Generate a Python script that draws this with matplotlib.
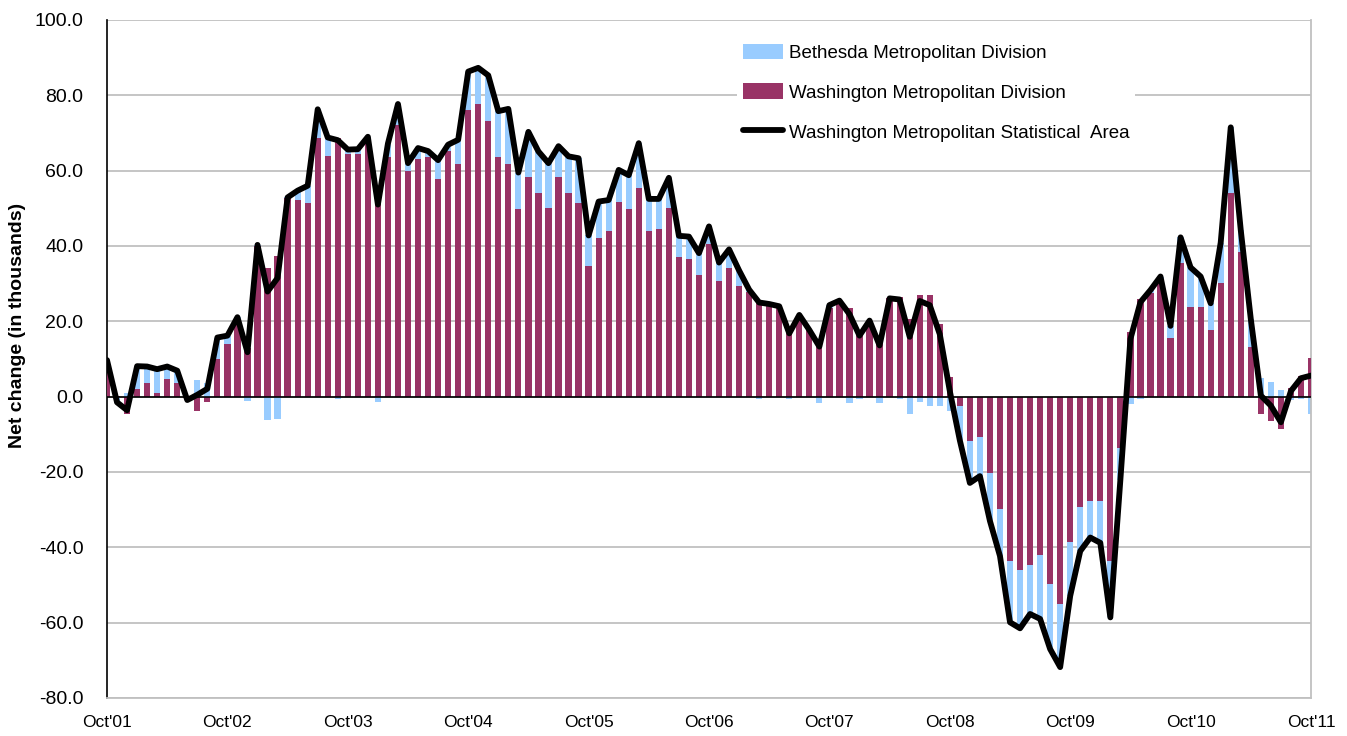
import matplotlib
matplotlib.use("Agg")
import matplotlib.pyplot as plt
import numpy as np

plt.rcParams['font.family'] = ['Liberation Sans', 'DejaVu Sans']

# Monthly net change, Oct'01 .. Oct'11 (thousands)
washington = [
    6.6, 0.3, -4.6, 2.0, 3.5, 1.1, 4.6, 3.7, -0.4, -3.8, -1.5, 10.1,
    14.1, 20.7, 12.9, 40.0, 34.1, 37.4, 52.7, 52.2, 51.3, 68.7, 64.0, 68.7,
    64.3, 64.5, 68.0, 52.3, 63.7, 72.0, 59.8, 63.1, 63.7, 57.8, 65.2, 61.9,
    76.1, 77.7, 73.3, 63.6, 61.9, 49.7, 58.2, 54.2, 50.1, 58.2, 54.2, 51.3,
    34.8, 42.0, 44.1, 51.8, 49.7, 55.3, 44.1, 44.5, 50.2, 37.2, 36.5, 32.3,
    40.4, 30.8, 34.1, 29.5, 27.9, 25.6, 24.4, 24.0, 17.4, 21.2, 17.7, 14.9,
    23.5, 25.2, 23.5, 16.8, 19.8, 15.4, 26.1, 26.5, 20.5, 26.9, 26.9, 19.2,
    5.3, -2.4, -11.9, -10.6, -20.3, -29.8, -43.6, -46.1, -44.7, -42.1, -49.8, -55.1,
    -38.6, -29.3, -27.8, -27.8, -43.6, -13.7, 17.3, 25.8, 27.6, 30.1, 15.5, 35.6,
    23.9, 23.9, 17.7, 30.1, 54.2, 38.4, 13.2, -4.6, -6.4, -8.7, 2.3, 5.6,
    10.2,
]
bethesda = [
    3.1, -1.8, 1.0, 6.1, 4.5, 6.2, 3.4, 3.2, -0.5, 4.3, 3.6, 5.6,
    2.1, 0.4, -1.1, 0.3, -6.2, -5.9, 0.2, 2.5, 4.7, 7.6, 4.8, -0.6,
    1.3, 1.2, 1.0, -1.3, 3.5, 5.7, 2.2, 2.9, 1.5, 5.0, 1.7, 6.3,
    10.2, 9.6, 12.0, 12.2, 14.5, 9.8, 12.1, 10.9, 11.9, 8.3, 9.6, 12.0,
    8.0, 9.8, 8.1, 8.4, 9.1, 12.0, 8.4, 8.0, 7.9, 5.5, 6.0, 5.8,
    4.8, 4.8, 5.0, 4.0, 0.5, -0.6, 0.2, 0.0, -0.6, 0.5, 0.0, -1.6,
    0.8, 0.3, -1.6, -0.6, 0.4, -1.8, 0.0, -0.7, -4.6, -1.5, -2.6, -2.6,
    -3.8, -9.2, -11.0, -10.5, -12.7, -12.5, -16.3, -15.4, -13.0, -16.9, -17.2, -16.7,
    -14.3, -11.7, -9.6, -11.0, -15.0, -8.4, -2.0, -0.7, 0.7, 1.8, 3.3, 6.7,
    10.4, 8.0, 7.1, 10.8, 17.3, 5.8, 7.4, 4.9, 4.0, 1.9, -0.8, -0.7,
    -4.6,
]
tick_labels = ["Oct'01", "Oct'02", "Oct'03", "Oct'04", "Oct'05", "Oct'06",
               "Oct'07", "Oct'08", "Oct'09", "Oct'10", "Oct'11"]

w = np.array(washington)
b = np.array(bethesda)
total = w + b
x = np.arange(len(w))

BLUE = '#99CCFF'
MAROON = '#993366'

fig = plt.figure(figsize=(13.47, 7.36), dpi=100)
ax = fig.add_axes([107/1347, 1-698/736, (1311-107)/1347, (698-20)/736])

width = 0.62
# Excel-style stacking: positives stack up, negatives stack down
w_base = np.zeros_like(w)
b_base = np.where((b >= 0) == (w >= 0), w, 0.0)

hb = ax.bar(x, b, width=width, bottom=b_base, color=BLUE, label='Bethesda Metropolitan Division', zorder=2)
hw = ax.bar(x, w, width=width, bottom=w_base, color=MAROON, label='Washington Metropolitan Division', zorder=3)
hl, = ax.plot(x, total, color='black', lw=4.2, solid_joinstyle='round', solid_capstyle='round',
              label='Washington Metropolitan Statistical  Area', zorder=4)

ax.axhline(0, color='black', lw=1.2, zorder=3.5)

ax.set_xlim(0, 120)
ax.set_ylim(-80, 100)
ax.set_yticks(np.arange(-80, 101, 20))
ax.set_yticklabels([f'{v:.1f}' for v in np.arange(-80, 101, 20)], fontsize=14)
ax.set_xticks(np.arange(0, 121, 12))
ax.set_xticklabels(tick_labels, fontsize=12.5)
ax.tick_params(axis='both', length=0)
ax.tick_params(axis='y', pad=17)
ax.tick_params(axis='x', pad=12)

ax.yaxis.grid(True, color='#C0C0C0', lw=1.3, zorder=0)
ax.set_axisbelow(True)
ax.spines['top'].set_visible(False)
ax.spines['right'].set_color('#C0C0C0')
ax.spines['right'].set_linewidth(1.3)
ax.spines['bottom'].set_color('#C0C0C0')
ax.spines['bottom'].set_linewidth(1.3)
ax.spines['left'].set_color('black')
ax.spines['left'].set_linewidth(1.2)

fig.text(18/1347, 1-325/736, 'Net change (in thousands)', rotation=90,
         fontsize=14, fontweight='bold', ha='center', va='center')

leg = ax.legend(handles=[hb, hw, hl], loc='upper left',
                bbox_to_anchor=((737-107)/1204, 1-(38-20)/678),
                fontsize=13.5, frameon=True, fancybox=False, framealpha=1,
                facecolor='white', edgecolor='none', handlelength=2.15,
                handleheight=0.9, handletextpad=0.3, labelspacing=1.15,
                borderpad=0.3, borderaxespad=0)

fig.savefig('out.png', dpi=100)
